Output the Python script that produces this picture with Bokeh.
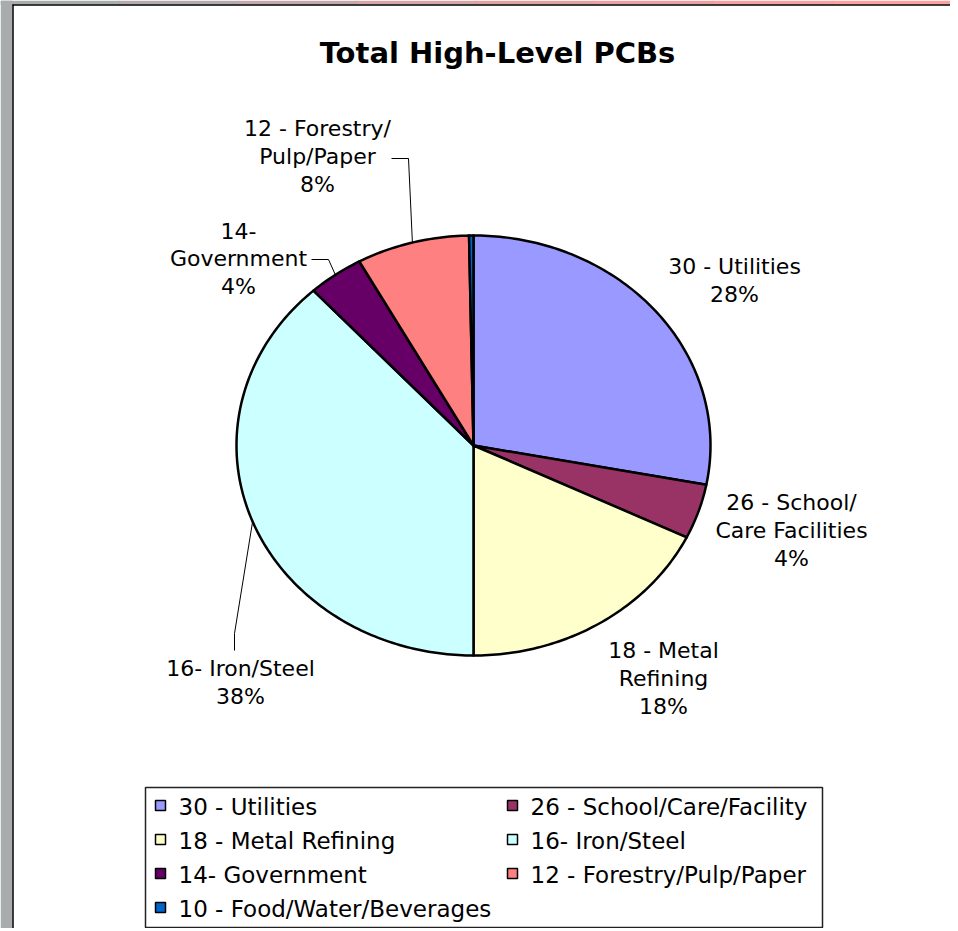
import numpy as np
from bokeh.plotting import figure
from bokeh.models import Range1d
from bokeh.embed import file_html
from bokeh.resources import INLINE
from bokeh.core.properties import value

# ---------------- data ----------------
title_text = "Total High-Level PCBs"
categories = ["30 - Utilities", "26 - School/Care/Facility", "18 - Metal Refining",
              "16- Iron/Steel", "14- Government", "12 - Forestry/Pulp/Paper",
              "10 - Food/Water/Beverages"]
shares = [28.0, 4.2, 17.8, 38.2, 3.8, 7.7, 0.3]
colors = ["#9999FF", "#993366", "#FFFFCC", "#CCFFFF", "#660066", "#FF8080", "#0066CC"]
slice_label_lines = [["30 - Utilities"], ["26 - School/", "Care Facilities"],
                     ["18 - Metal", "Refining"], ["16- Iron/Steel"],
                     ["14-", "Government"], ["12 - Forestry/", "Pulp/Paper"], None]

# ---------------- layout (screen-pixel data space) ----------------
W, H = 950, 928
CX, CY, RX, RY = 473, 445, 237, 210
FONT = value("DejaVu Sans")
label_anchor = [(734, 266), (791, 502), (663, 650), (240, 668), (238, 230), (317, 128), None]
label_line_step = 28
# leader bend points (from slice edge at mid-angle to label)
leader_bends = {3: [(234, 633), (234, 650)], 4: [(328, 259), (311, 259)], 5: [(408, 158), (391, 158)]}

p = figure(width=W, height=H, output_backend="svg", toolbar_location=None,
           x_range=Range1d(0, W), y_range=Range1d(H, 0), min_border=0)
p.axis.visible = False
p.grid.visible = False
p.outline_line_color = None
p.background_fill_color = "white"
p.border_fill_color = "white"

# surrounding frame: grey strip at left, grey-to-pink strip on top, black border lines
p.quad(left=[0], right=[12], top=[0], bottom=[H], fill_color="#A9ACAC", line_color=None)
strip_cols = ["#A9ACAC", "#B5AAAC", "#C6A8AC", "#D6A5A8", "#E2A2A4", "#EDA0A2", "#F6A0A0", "#FCA0A0"]
n_s = len(strip_cols)
p.quad(left=[i * W / n_s for i in range(n_s)], right=[(i + 1) * W / n_s + 1 for i in range(n_s)],
       top=[0] * n_s, bottom=[4] * n_s, fill_color=strip_cols, line_color=None)
p.segment(x0=[12.5], y0=[4], x1=[12.5], y1=[H], line_color="black", line_width=1.5)
p.segment(x0=[12], y0=[4.5], x1=[W], y1=[4.5], line_color="black", line_width=1.5)

# title
p.text(x=[497], y=[52], text=[title_text], text_font=value("DejaVu Sans"),
       text_font_style="bold", text_font_size="29px", text_align="center",
       text_baseline="middle", text_color="black")

# ---------------- pie (elliptical, clockwise from top) ----------------
total = sum(shares)
angles = np.cumsum([0] + [s / total * 2 * np.pi for s in shares])
xs, ys = [], []
for a0, a1 in zip(angles[:-1], angles[1:]):
    n = max(3, int((a1 - a0) / (2 * np.pi) * 400))
    t = np.linspace(a0, a1, n)
    xs.append([CX] + list(CX + RX * np.sin(t)) + [CX])
    ys.append([CY] + list(CY - RY * np.cos(t)) + [CY])
p.patches(xs, ys, fill_color=colors, line_color="black", line_width=2.5, line_join="round")

# ---------------- slice labels ----------------
tx, ty, tt = [], [], []
for i, lines in enumerate(slice_label_lines):
    if lines is None:
        continue
    pct = f"{round(shares[i] / total * 100):.0f}%"
    ax, ay = label_anchor[i]
    for k, ln in enumerate(lines + [pct]):
        tx.append(ax)
        ty.append(ay + k * label_line_step)
        tt.append(ln)
p.text(x=tx, y=ty, text=tt, text_font=FONT, text_font_size="22px",
       text_align="center", text_baseline="middle", text_color="black")

# leader lines
lx, ly = [], []
for i, bends in leader_bends.items():
    mid = (angles[i] + angles[i + 1]) / 2
    ex, ey = CX + RX * np.sin(mid), CY - RY * np.cos(mid)
    lx.append([ex] + [b[0] for b in bends])
    ly.append([ey] + [b[1] for b in bends])
p.multi_line(lx, ly, line_color="black", line_width=1)

# ---------------- legend ----------------
p.quad(left=[145], right=[822], top=[787], bottom=[927], fill_color="white",
       line_color="#222222", line_width=1.5)
col_x = [160, 512]
row_y0, row_step = 805, 34
sq_x = [col_x[i % 2] for i in range(len(categories))]
sq_y = [row_y0 + row_step * (i // 2) for i in range(len(categories))]
p.rect(x=sq_x, y=sq_y, width=10, height=10, fill_color=colors, line_color="black", line_width=1.5)
p.text(x=[x + 18 for x in sq_x], y=[y + 1 for y in sq_y], text=categories, text_font=FONT,
       text_font_size="23px", text_align="left", text_baseline="middle", text_color="black")

open("out.html", "w").write(file_html(p, INLINE))
